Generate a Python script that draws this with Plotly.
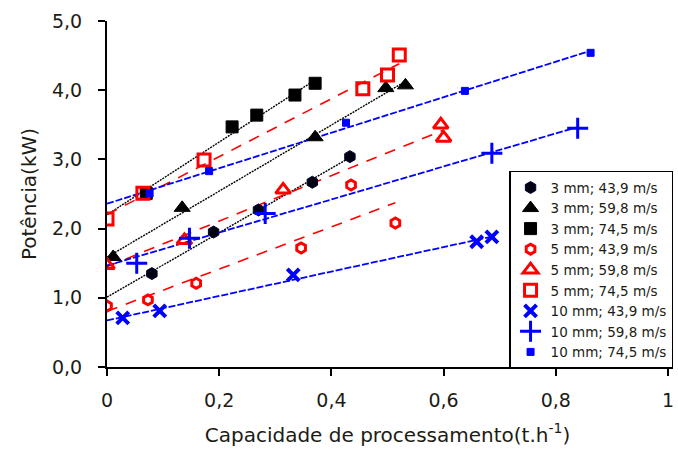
import numpy as np
import plotly.graph_objects as go

# ---- data ----
names = ["3 mm; 43,9 m/s", "3 mm; 59,8 m/s", "3 mm; 74,5 m/s",
         "5 mm; 43,9 m/s", "5 mm; 59,8 m/s", "5 mm; 74,5 m/s",
         "10 mm; 43,9 m/s", "10 mm; 59,8 m/s", "10 mm; 74,5 m/s"]

x_3_439 = [0.08, 0.19, 0.27, 0.366, 0.433]
y_3_439 = [1.35, 1.95, 2.27, 2.67, 3.04]
x_3_598 = [0.011, 0.134, 0.371, 0.497, 0.532]
y_3_598 = [1.59, 2.30, 3.32, 4.03, 4.07]
x_3_745 = [0.07, 0.223, 0.267, 0.335, 0.371]
y_3_745 = [2.51, 3.47, 3.64, 3.93, 4.10]
x_5_439 = [0.0, 0.073, 0.159, 0.346, 0.435, 0.514]
y_5_439 = [0.88, 0.97, 1.21, 1.72, 2.63, 2.08]
x_5_598 = [0.0, 0.138, 0.314, 0.595, 0.60]
y_5_598 = [1.47, 1.83, 2.56, 3.50, 3.31]
x_5_745 = [0.0, 0.064, 0.173, 0.456, 0.50, 0.521]
y_5_745 = [2.14, 2.51, 2.99, 4.02, 4.22, 4.51]
x_10_439 = [0.028, 0.094, 0.332, 0.659, 0.686]
y_10_439 = [0.71, 0.81, 1.33, 1.81, 1.88]
x_10_598 = [0.053, 0.147, 0.282, 0.686, 0.839]
y_10_598 = [1.50, 1.86, 2.22, 3.09, 3.45]
x_10_745 = [0.076, 0.182, 0.426, 0.638, 0.862]
y_10_745 = [2.51, 2.83, 3.53, 3.99, 4.54]

xs = [x_3_439, x_3_598, x_3_745, x_5_439, x_5_598, x_5_745, x_10_439, x_10_598, x_10_745]
ys = [y_3_439, y_3_598, y_3_745, y_5_439, y_5_598, y_5_745, y_10_439, y_10_598, y_10_745]

x_tickvals = [0, 0.2, 0.4, 0.6, 0.8, 1.0]
x_ticktext = ["0", "0,2", "0,4", "0,6", "0,8", "1"]
y_tickvals = [0, 1, 2, 3, 4, 5]
y_ticktext = ["0,0", "1,0", "2,0", "3,0", "4,0", "5,0"]

# ---- styles ----
BLACK, RED, BLUE = "#000000", "#ff0000", "#0000ff"
TXT = "#1c1c14"
marker_styles = [
    dict(symbol="hexagon", size=12, color="#000010", line=dict(color="#000033", width=1)),
    dict(symbol="triangle-up", size=14, color=BLACK, line=dict(color=BLACK, width=1)),
    dict(symbol="square", size=12, color=BLACK, line=dict(color=BLACK, width=1)),
    dict(symbol="hexagon-open", size=10, color=RED, line=dict(color=RED, width=3)),
    dict(symbol="triangle-up-open", size=13, color=RED, line=dict(color=RED, width=3)),
    dict(symbol="square-open", size=12, color=RED, line=dict(color=RED, width=3)),
    dict(symbol="x-thin", size=12, color=BLUE, line=dict(color=BLUE, width=4)),
    dict(symbol="cross-thin", size=15, color=BLUE, line=dict(color=BLUE, width=3)),
    dict(symbol="square", size=7, color=BLUE, line=dict(color=BLUE, width=1)),
]
line_styles = [
    dict(color=BLACK, width=1.4, dash="2px,1px"),
    dict(color=BLACK, width=1.4, dash="2px,1px"),
    dict(color=BLACK, width=1.4, dash="2px,1px"),
    dict(color=RED, width=1.6, dash="11px,9px"),
    dict(color=RED, width=1.6, dash="11px,9px"),
    dict(color=RED, width=1.6, dash="11px,9px"),
    dict(color=BLUE, width=1.8, dash="7px,2px"),
    dict(color=BLUE, width=1.8, dash="7px,2px"),
    dict(color=BLUE, width=1.8, dash="7px,2px"),
]

fig = go.Figure()

# linear trend lines (fitted from the data), drawn from x=0 to the last point
for x, y, ls in zip(xs, ys, line_styles):
    k, b = np.polyfit(x, y, 1)
    lx = np.array([0.0, max(x)])
    fig.add_trace(go.Scatter(x=lx, y=k * lx + b, mode="lines", line=ls,
                             showlegend=False, hoverinfo="skip"))

for x, y, nm, ms in zip(xs, ys, names, marker_styles):
    fig.add_trace(go.Scatter(x=x, y=y, mode="markers", name=nm, marker=ms))

FONT = "DejaVu Sans, Verdana, sans-serif"
axis_common = dict(showgrid=False, zeroline=False, showline=True, linecolor="black",
                   linewidth=2, ticks="outside", ticklen=7, tickwidth=2,
                   tickcolor="black", tickfont=dict(family=FONT, size=19, color=TXT))

fig.update_layout(
    width=678, height=453,
    margin=dict(l=107, r=5, t=21, b=86),
    paper_bgcolor="white", plot_bgcolor="white",
    font=dict(family=FONT, color=TXT),
    xaxis=dict(range=[0, 1], tickvals=x_tickvals, ticktext=x_ticktext,
               ticklabelstandoff=8,
               title=dict(text="Capacidade de processamento(t.h<sup>-1</sup>)",
                          font=dict(family=FONT, size=20, color=TXT), standoff=18),
               **axis_common),
    yaxis=dict(range=[0, 5], tickvals=y_tickvals, ticktext=y_ticktext,
               ticklabelstandoff=12,
               title=dict(text="Potência(kW)", font=dict(family=FONT, size=20, color=TXT),
                          standoff=10),
               **axis_common),
    legend=dict(x=1.009, y=-0.005, xanchor="right", yanchor="bottom",
                bordercolor="black", borderwidth=1.5, bgcolor="white",
                font=dict(family=FONT, size=13.5, color=TXT),
                itemwidth=30, tracegroupgap=0),
)

fig.write_html("out.html")
